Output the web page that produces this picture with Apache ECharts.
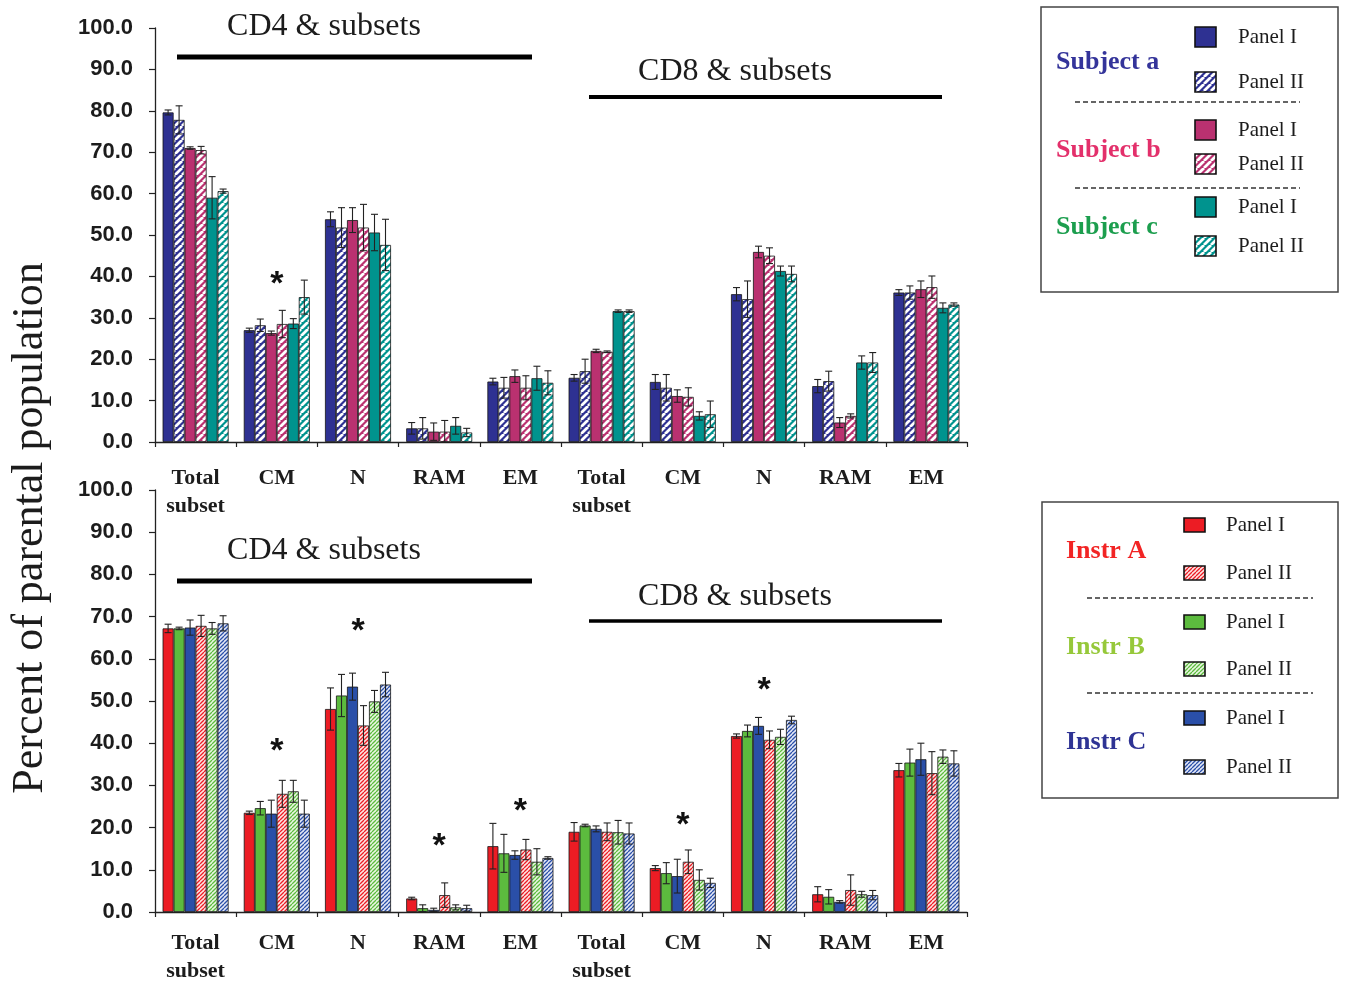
<!DOCTYPE html>
<html>
<head>
<meta charset="utf-8">
<title>Percent of parental population – CD4 / CD8 subsets</title>
<script src="https://cdn.jsdelivr.net/npm/echarts@6/dist/echarts.min.js"></script>
<style>
  html, body { margin: 0; padding: 0; background: #ffffff; }
  #chart { width: 1345px; height: 985px; }
</style>
</head>
<body>
<div id="chart"></div>
<script>
// ---------- data ----------
const categories = ['Total\nsubset', 'CM', 'N', 'RAM', 'EM', 'Total\nsubset', 'CM', 'N', 'RAM', 'EM'];

// Upper panel: three subjects, each stained with Panel I and Panel II (mean, SD)
const subjAPanel1    = [79.6, 27.0, 53.8, 3.3, 14.6, 15.5, 14.5, 35.7, 13.5, 36.1];
const subjAPanel1Err = [0.6, 0.5, 1.8, 1.4, 0.8, 0.8, 1.8, 1.6, 1.6, 0.7];
const subjAPanel2    = [77.8, 28.2, 51.8, 3.3, 13.1, 17.1, 13.1, 34.5, 14.7, 36.1];
const subjAPanel2Err = [3.4, 1.5, 4.8, 2.6, 2.5, 2.9, 3.2, 4.4, 2.4, 1.6];
const subjBPanel1    = [71.0, 26.3, 53.6, 2.5, 15.9, 22.0, 11.1, 45.9, 4.7, 36.9];
const subjBPanel1Err = [0.3, 0.5, 3.0, 2.1, 1.5, 0.4, 1.5, 1.4, 1.2, 2.0];
const subjBPanel2    = [70.5, 28.5, 51.8, 2.5, 13.1, 21.8, 10.9, 45.0, 6.3, 37.4];
const subjBPanel2Err = [0.9, 3.3, 5.6, 2.7, 2.9, 0.2, 2.2, 1.9, 0.5, 2.7];
const subjCPanel1    = [59.0, 28.6, 50.6, 3.9, 15.4, 31.6, 6.3, 41.3, 19.2, 32.4];
const subjCPanel1Err = [5.1, 1.2, 4.4, 2.0, 2.9, 0.3, 1.0, 1.2, 1.6, 1.2];
const subjCPanel2    = [60.6, 35.0, 47.6, 2.3, 14.3, 31.6, 6.7, 40.6, 19.2, 33.2];
const subjCPanel2Err = [0.5, 4.1, 6.2, 1.0, 2.9, 0.3, 3.2, 1.9, 2.4, 0.4];

// Lower panel: three instruments, Panel I then Panel II (mean, SD)
const instrAPanel1    = [67.2, 23.5, 48.1, 3.2, 15.6, 19.0, 10.4, 41.7, 4.2, 33.6];
const instrAPanel1Err = [1.0, 0.4, 5.0, 0.3, 5.4, 2.2, 0.6, 0.5, 1.8, 1.6];
const instrBPanel1    = [67.2, 24.6, 51.3, 0.9, 13.9, 20.5, 9.2, 42.9, 3.6, 35.4];
const instrBPanel1Err = [0.3, 1.6, 5.0, 0.8, 4.5, 0.3, 2.5, 1.4, 1.7, 3.2];
const instrCPanel1    = [67.4, 23.3, 53.4, 0.5, 13.5, 19.7, 8.5, 44.1, 2.4, 36.2];
const instrCPanel1Err = [1.8, 3.2, 3.2, 0.4, 1.0, 0.7, 4.0, 2.0, 0.3, 3.8];
const instrAPanel2    = [67.8, 28.0, 44.2, 4.0, 14.8, 19.0, 11.9, 40.8, 5.2, 32.9];
const instrAPanel2Err = [2.5, 3.2, 4.7, 2.9, 2.4, 2.1, 2.8, 2.1, 3.6, 5.1];
const instrBPanel2    = [67.2, 28.6, 49.9, 1.1, 11.9, 18.9, 7.6, 41.5, 4.2, 36.8];
const instrBPanel2Err = [1.4, 2.6, 2.6, 0.6, 3.1, 2.8, 2.4, 1.8, 0.7, 1.6];
const instrCPanel2    = [68.4, 23.3, 53.9, 0.9, 12.8, 18.6, 6.9, 45.5, 4.0, 35.2];
const instrCPanel2Err = [1.8, 3.2, 2.9, 0.7, 0.3, 2.5, 1.1, 0.9, 1.1, 3.0];

// significance markers: [category index, height of the star in %]
const upperStars = [[1, 39.4]];
const lowerStars = [[1, 39.5], [2, 67.8], [3, 16.9], [4, 25.2], [6, 21.9], [7, 53.9]];

const yMin = 0, yMax = 100, yStep = 10;

// ---------- styling ----------
const AXIS_FONT = '"Liberation Sans", Arial, sans-serif';
const SERIF = '"Liberation Serif", "Times New Roman", serif';
const INK = '#1c1c1c';

const colA = '#2E3192', colB = '#BA3170', colC = '#00938E';
const colRed = '#EC1C24', colGreen = '#5CBB3E', colBlue = '#2A4FA8';

// diagonal "/" hatch fill built on a small canvas tile
function hatch(fg, bg, period, lineW) {
  const c = document.createElement('canvas');
  c.width = c.height = period;
  const g = c.getContext('2d');
  g.fillStyle = bg;
  g.fillRect(0, 0, period, period);
  g.strokeStyle = fg;
  g.lineWidth = lineW;
  g.beginPath();
  for (let k = -1; k <= 1; k++) {
    g.moveTo(k * period, period);
    g.lineTo(k * period + period, 0);
  }
  g.stroke();
  return { image: c, repeat: 'repeat' };
}

const fillA2 = hatch('#ffffff', colA, 7, 2.8);
const fillB2 = hatch('#ffffff', colB, 7, 2.8);
const fillC2 = hatch('#ffffff', colC, 7, 2.8);
const fillRed2 = hatch(colRed, '#fde6e4', 4, 1.3);
const fillGreen2 = hatch(colGreen, '#eaf6e2', 4, 1.3);
const fillBlue2 = hatch(colBlue, '#e4e8f6', 4, 1.3);

const BAR_W = 11;

function barSeries(name, data, fill, gi) {
  return {
    type: 'bar', name, data,
    xAxisIndex: gi, yAxisIndex: gi,
    barWidth: BAR_W, barGap: '0%',
    itemStyle: { color: fill, borderColor: '#151515', borderWidth: 0.8 },
    silent: true
  };
}

// symmetric SD whiskers centred over each bar of a cluster
function errorSeries(gi, vals, errs) {
  const n = vals.length;
  const data = [];
  vals.forEach((arr, s) => arr.forEach((v, i) => data.push([i, s, v, errs[s][i]])));
  return {
    type: 'custom', xAxisIndex: gi, yAxisIndex: gi, z: 5, silent: true,
    data, encode: { x: 0, y: 2 },
    renderItem(params, api) {
      const i = api.value(0), s = api.value(1), v = api.value(2), e = api.value(3);
      const cx = api.coord([i, v])[0] + (s - (n - 1) / 2) * BAR_W;
      const yTop = api.coord([i, v + e])[1];
      const yBot = api.coord([i, Math.max(v - e, 0)])[1];
      const cap = 3.5;
      const st = { stroke: '#222', lineWidth: 1.1 };
      return {
        type: 'group', children: [
          { type: 'line', shape: { x1: cx, y1: yTop, x2: cx, y2: yBot }, style: st },
          { type: 'line', shape: { x1: cx - cap, y1: yTop, x2: cx + cap, y2: yTop }, style: st },
          { type: 'line', shape: { x1: cx - cap, y1: yBot, x2: cx + cap, y2: yBot }, style: st }
        ]
      };
    }
  };
}

// asterisks anchored to category / value coordinates
function starSeries(gi, stars) {
  return {
    type: 'custom', xAxisIndex: gi, yAxisIndex: gi, z: 6, silent: true,
    data: stars, encode: { x: 0, y: 1 },
    renderItem(params, api) {
      const p = api.coord([api.value(0), api.value(1)]);
      return {
        type: 'text',
        style: {
          text: '*', x: p[0], y: p[1] + 6,
          font: 'bold 34px ' + AXIS_FONT, fill: '#111',
          align: 'center', verticalAlign: 'middle'
        }
      };
    }
  };
}

function xAxisCfg(gi, margin) {
  return {
    type: 'category', gridIndex: gi, data: categories,
    axisLine: { lineStyle: { color: '#222', width: 1.3 } },
    axisTick: { show: true, length: 5, lineStyle: { color: '#222', width: 1.2 } },
    axisLabel: {
      interval: 0, margin, color: INK,
      fontFamily: SERIF, fontWeight: 'bold', fontSize: 22, lineHeight: 28
    }
  };
}

function yAxisCfg(gi) {
  return {
    type: 'value', gridIndex: gi, min: yMin, max: yMax, interval: yStep,
    splitLine: { show: false },
    axisLine: { show: true, lineStyle: { color: '#222', width: 1.3 } },
    axisTick: { show: true, length: 6, lineStyle: { color: '#222', width: 1.2 } },
    axisLabel: {
      margin: 22, color: INK, fontFamily: AXIS_FONT, fontWeight: 'bold', fontSize: 22,
      formatter: v => v.toFixed(1)
    }
  };
}

// ---------- legend boxes (graphic) ----------
function legendBox(box, sepLines, groups, swatch, textX, groupFont, itemFont) {
  const els = [];
  els.push({
    type: 'rect', shape: { x: box[0], y: box[1], width: box[2], height: box[3] },
    style: { fill: '#fff', stroke: '#444', lineWidth: 1.5 }
  });
  sepLines.forEach(s => els.push({
    type: 'line', shape: { x1: s[0], y1: s[2], x2: s[1], y2: s[2] },
    style: { stroke: '#333', lineWidth: 1.5, lineDash: [5, 3] }
  }));
  groups.forEach(g => {
    els.push({
      type: 'text',
      style: { text: g.label, x: g.x, y: g.y, fill: g.color, font: groupFont, verticalAlign: 'middle' }
    });
    g.items.forEach(it => {
      els.push({
        type: 'rect',
        shape: { x: swatch.x, y: it.y - swatch.h / 2, width: swatch.w, height: swatch.h },
        style: { fill: it.fill, stroke: '#111', lineWidth: 1.6 }
      });
      els.push({
        type: 'text',
        style: { text: it.text, x: textX, y: it.y, fill: INK, font: itemFont, verticalAlign: 'middle' }
      });
    });
  });
  return els;
}

const upperLegend = legendBox(
  [1041, 7, 297, 285],
  [[1075, 1300, 102], [1075, 1300, 188]],
  [
    { label: 'Subject a', color: '#34349A', x: 1056, y: 62, items: [
      { fill: colA, y: 37, text: 'Panel I' }, { fill: fillA2, y: 82, text: 'Panel II' }] },
    { label: 'Subject b', color: '#E3306B', x: 1056, y: 150, items: [
      { fill: colB, y: 130, text: 'Panel I' }, { fill: fillB2, y: 164, text: 'Panel II' }] },
    { label: 'Subject c', color: '#1C9E4E', x: 1056, y: 227, items: [
      { fill: colC, y: 207, text: 'Panel I' }, { fill: fillC2, y: 246, text: 'Panel II' }] }
  ],
  { x: 1195, w: 21, h: 20 }, 1238,
  'bold 26px ' + SERIF, '21px ' + SERIF
);

const lowerLegend = legendBox(
  [1042, 502, 296, 296],
  [[1087, 1313, 598], [1087, 1313, 693]],
  [
    { label: 'Instr A', color: '#F22424', x: 1066, y: 551, items: [
      { fill: colRed, y: 525, text: 'Panel I' }, { fill: fillRed2, y: 573, text: 'Panel II' }] },
    { label: 'Instr B', color: '#96C83A', x: 1066, y: 647, items: [
      { fill: colGreen, y: 622, text: 'Panel I' }, { fill: fillGreen2, y: 669, text: 'Panel II' }] },
    { label: 'Instr C', color: '#2E3394', x: 1066, y: 742, items: [
      { fill: colBlue, y: 718, text: 'Panel I' }, { fill: fillBlue2, y: 767, text: 'Panel II' }] }
  ],
  { x: 1184, w: 21, h: 14 }, 1226,
  'bold 26px ' + SERIF, '21px ' + SERIF
);

// ---------- section headings over the clusters ----------
function heading(text, cx, cy, x1, x2, ly, lw) {
  return [
    { type: 'text', style: { text, x: cx, y: cy, font: '32px ' + SERIF, fill: INK, align: 'center', verticalAlign: 'middle' } },
    { type: 'line', shape: { x1, y1: ly, x2, y2: ly }, style: { stroke: '#000', lineWidth: lw } }
  ];
}

const headings = [].concat(
  heading('CD4 & subsets', 324, 27, 177, 532, 57, 5),
  heading('CD8 & subsets', 735, 72, 589, 942, 97, 4),
  heading('CD4 & subsets', 324, 551, 177, 532, 581, 5),
  heading('CD8 & subsets', 735, 597, 589, 942, 621, 3.5)
);

const yTitle = {
  type: 'text', x: 30, y: 528, rotation: Math.PI / 2,
  style: {
    text: 'Percent of parental population', font: '44px ' + SERIF, fill: INK,
    align: 'center', verticalAlign: 'middle'
  }
};

// ---------- chart ----------
const chart = echarts.init(document.getElementById('chart'), null, { renderer: 'canvas' });

chart.setOption({
  animation: false,
  backgroundColor: '#ffffff',
  grid: [
    { left: 155, top: 28, width: 812, height: 414 },
    { left: 155, top: 490, width: 812, height: 425 }
  ],
  xAxis: [xAxisCfg(0, 22), xAxisCfg(1, 17)],
  yAxis: [yAxisCfg(0), yAxisCfg(1)],
  series: [
    barSeries('Subject a Panel I', subjAPanel1, colA, 0),
    barSeries('Subject a Panel II', subjAPanel2, fillA2, 0),
    barSeries('Subject b Panel I', subjBPanel1, colB, 0),
    barSeries('Subject b Panel II', subjBPanel2, fillB2, 0),
    barSeries('Subject c Panel I', subjCPanel1, colC, 0),
    barSeries('Subject c Panel II', subjCPanel2, fillC2, 0),
    errorSeries(0,
      [subjAPanel1, subjAPanel2, subjBPanel1, subjBPanel2, subjCPanel1, subjCPanel2],
      [subjAPanel1Err, subjAPanel2Err, subjBPanel1Err, subjBPanel2Err, subjCPanel1Err, subjCPanel2Err]),
    starSeries(0, upperStars),

    barSeries('Instr A Panel I', instrAPanel1, colRed, 1),
    barSeries('Instr B Panel I', instrBPanel1, colGreen, 1),
    barSeries('Instr C Panel I', instrCPanel1, colBlue, 1),
    barSeries('Instr A Panel II', instrAPanel2, fillRed2, 1),
    barSeries('Instr B Panel II', instrBPanel2, fillGreen2, 1),
    barSeries('Instr C Panel II', instrCPanel2, fillBlue2, 1),
    errorSeries(1,
      [instrAPanel1, instrBPanel1, instrCPanel1, instrAPanel2, instrBPanel2, instrCPanel2],
      [instrAPanel1Err, instrBPanel1Err, instrCPanel1Err, instrAPanel2Err, instrBPanel2Err, instrCPanel2Err]),
    starSeries(1, lowerStars)
  ],
  graphic: [yTitle].concat(headings, upperLegend, lowerLegend)
});
</script>
</body>
</html>
